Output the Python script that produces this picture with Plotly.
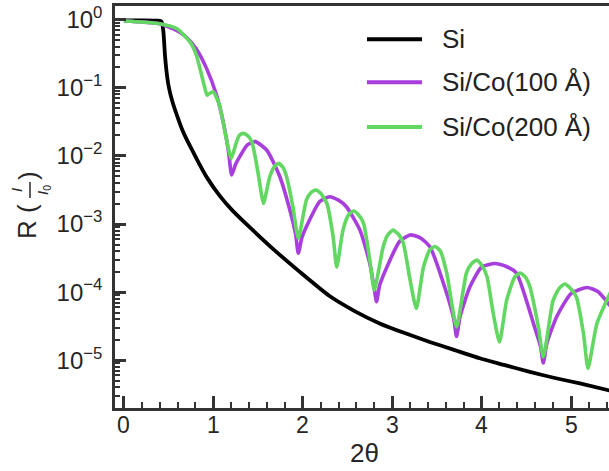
import plotly.graph_objects as go

# 2θ positions and reflectivity R = I/I0 for each sample
si_x = [0, 0.2, 0.38, 0.42, 0.44, 0.459, 0.475, 0.496, 0.52, 0.551, 0.60, 0.645,
        0.70, 0.775, 0.85, 0.925, 1.074, 1.22, 1.37, 1.67, 1.97, 2.30, 2.58,
        2.86, 3.14, 3.42, 3.70, 3.98, 4.26, 4.54, 4.82, 5.10, 5.45]
si_r = [0.977, 0.975, 0.965, 0.940, 0.692, 0.300, 0.180, 0.1125, 0.0800, 0.0573,
        0.0370, 0.0255, 0.0176, 0.01132, 7.31e-3, 4.88e-3, 2.57e-3, 1.55e-3,
        9.97e-4, 4.29e-4, 1.97e-4, 8.77e-5, 5.28e-5, 3.48e-5, 2.51e-5, 1.86e-5,
        1.41e-5, 1.07e-5, 8.51e-6, 6.76e-6, 5.50e-6, 4.57e-6, 3.55e-6]

co100_x = [0, 0.2, 0.4, 0.59, 0.70, 0.81, 0.925, 1.036, 1.11, 1.17, 1.205, 1.25,
           1.30, 1.38, 1.47, 1.60, 1.745, 1.857, 1.92, 1.95, 1.99, 2.04, 2.19,
           2.30, 2.40, 2.49, 2.64, 2.75, 2.80, 2.825, 2.86, 2.975, 3.08, 3.2,
           3.31, 3.42, 3.61, 3.69, 3.72, 3.76, 3.87, 4.0, 4.15, 4.27, 4.39, 4.58,
           4.66, 4.69, 4.73, 4.84, 5.0, 5.18, 5.30, 5.45]
co100_r = [0.955, 0.923, 0.871, 0.692, 0.550, 0.372, 0.191, 0.0776, 0.0316,
           0.0115, 5.25e-3, 7.59e-3, 0.0100, 0.0145, 0.0162, 0.0120, 4.90e-3,
           1.58e-3, 7.08e-4, 3.72e-4, 6.31e-4, 9.12e-4, 2.14e-3, 2.51e-3,
           2.24e-3, 1.78e-3, 8.13e-4, 2.63e-4, 1.12e-4, 7.24e-5, 1.26e-4,
           2.95e-4, 5.50e-4, 6.92e-4, 6.31e-4, 4.68e-4, 9.55e-5, 3.98e-5,
           2.24e-5, 4.47e-5, 1.20e-4, 2.34e-4, 2.63e-4, 2.40e-4, 1.91e-4,
           3.47e-5, 1.58e-5, 9.12e-6, 1.78e-5, 4.37e-5, 9.55e-5, 1.17e-4,
           1.02e-4, 6.03e-5]

co200_x = [0, 0.2, 0.4, 0.59, 0.74, 0.81, 0.87, 0.90, 0.93, 0.96, 1.0, 1.07,
           1.13, 1.17, 1.20, 1.26, 1.29, 1.33, 1.38, 1.43, 1.50, 1.53, 1.56,
           1.63, 1.68, 1.73, 1.78, 1.82, 1.89, 1.95, 2.04, 2.09, 2.145, 2.20,
           2.27, 2.34, 2.38, 2.45, 2.51, 2.565, 2.62, 2.68, 2.75, 2.80, 2.90,
           2.95, 3.01, 3.07, 3.125, 3.2, 3.27, 3.35, 3.42, 3.48, 3.54, 3.61,
           3.72, 3.83, 3.89, 3.945, 4.00, 4.06, 4.13, 4.20, 4.28, 4.37, 4.43,
           4.49, 4.54, 4.635, 4.69, 4.80, 4.87, 4.93, 4.99, 5.06, 5.14, 5.19,
           5.29, 5.45]
co200_r = [0.955, 0.923, 0.871, 0.741, 0.468, 0.302, 0.151, 0.105, 0.0776,
           0.0832, 0.0871, 0.0550, 0.0224, 0.0126, 9.12e-3, 0.0162, 0.0200,
           0.0214, 0.0200, 0.0162, 5.62e-3, 3.16e-3, 2.00e-3, 4.90e-3, 6.92e-3,
           7.76e-3, 6.76e-3, 4.90e-3, 1.78e-3, 6.17e-4, 2.24e-3, 2.88e-3,
           3.16e-3, 2.82e-3, 2.00e-3, 6.46e-4, 2.34e-4, 8.13e-4, 1.35e-3,
           1.55e-3, 1.38e-3, 1.02e-3, 2.95e-4, 1.07e-4, 4.68e-4, 6.92e-4,
           8.13e-4, 7.08e-4, 5.25e-4, 1.51e-4, 5.75e-5, 2.34e-4, 4.17e-4,
           4.68e-4, 3.98e-4, 1.91e-4, 3.09e-5, 1.91e-4, 2.63e-4, 2.95e-4,
           2.51e-4, 1.70e-4, 4.90e-5, 1.86e-5, 7.59e-5, 1.66e-4, 1.91e-4,
           1.66e-4, 1.20e-4, 3.09e-5, 1.12e-5, 7.59e-5, 1.15e-4, 1.32e-4,
           1.15e-4, 8.51e-5, 2.45e-5, 7.59e-6, 3.47e-5, 1.05e-4]

names = ["Si", "Si/Co(100 Å)", "Si/Co(200 Å)"]
colors = ["#000000", "#A83EDB", "#62D862"]
widths = [3.8, 3.6, 3.6]

x_tick_vals = [0, 1, 2, 3, 4, 5]
y_tick_vals = [1, 1e-1, 1e-2, 1e-3, 1e-4, 1e-5]
y_tick_text = ["10<sup>0</sup>", "10<sup>−1</sup>", "10<sup>−2</sup>",
               "10<sup>−3</sup>", "10<sup>−4</sup>", "10<sup>−5</sup>"]

AX = "#333333"
TXT = "#262626"
FONT = "Liberation Sans, Arial, sans-serif"

fig = go.Figure()
series = [(si_x, si_r), (co100_x, co100_r), (co200_x, co200_r)]
for (xs, rs), name, col, w in zip(series, names, colors, widths):
    fig.add_trace(go.Scatter(
        x=xs, y=rs, mode="lines", name=name, showlegend=False,
        line=dict(color=col, width=w, shape="spline", smoothing=0.55),
    ))

# minor ticks on the log axis at 2..9 × 10^n
minor_vals = [m * 10.0 ** e for e in range(-6, 1) for m in range(2, 10)]

fig.update_layout(
    width=609, height=471,
    margin=dict(l=115, r=0, t=6, b=63),
    plot_bgcolor="white", paper_bgcolor="white",
    font=dict(family=FONT, color=TXT, size=24),
    xaxis=dict(
        range=[-0.1, 5.425], showgrid=False, zeroline=False,
        showline=True, linecolor=AX, linewidth=2.5, mirror=True,
        ticks="inside", ticklen=12, tickwidth=2.5, tickcolor=AX,
        tickmode="array", tickvals=x_tick_vals, showticklabels=False,
        minor=dict(ticks="inside", ticklen=6, tickwidth=2, tickcolor=AX,
                   tick0=0, dtick=0.2),
    ),
    yaxis=dict(
        type="log", range=[-5.70, 0.20], showgrid=False, zeroline=False,
        showline=True, linecolor=AX, linewidth=2.5,
        ticks="inside", ticklen=11, tickwidth=2.5, tickcolor=AX,
        tickmode="array", tickvals=y_tick_vals, ticktext=y_tick_text,
        ticklabelstandoff=5,
        tickfont=dict(size=24, color=TXT),
        minor=dict(ticks="inside", ticklen=5, tickwidth=1.8, tickcolor=AX,
                   tickmode="array", tickvals=minor_vals),
    ),
)


def px_x(p):
    return (p - 115) / 494.0


def px_y(p):
    return (408.3 - p) / 402.6


# x tick labels placed just under the axis line
for v in x_tick_vals:
    fig.add_annotation(xref="x", yref="paper", x=v, y=px_y(425),
                       text=str(v), showarrow=False, xanchor="center",
                       yanchor="middle", font=dict(size=23, color=TXT, family=FONT))

# x-axis title
fig.add_annotation(xref="paper", yref="paper", x=px_x(364), y=px_y(453),
                   text="2θ", showarrow=False, xanchor="center", yanchor="middle",
                   font=dict(size=26, color=TXT, family=FONT))

# legend drawn as line samples with text labels
legend_y = [39, 82, 127]
for name, col, yy in zip(names, colors, legend_y):
    fig.add_shape(type="line", xref="paper", yref="paper",
                  x0=px_x(367), x1=px_x(422), y0=px_y(yy), y1=px_y(yy),
                  line=dict(color=col, width=4))
    fig.add_annotation(xref="paper", yref="paper", x=px_x(440), y=px_y(yy),
                       text=name, showarrow=False, xanchor="left", yanchor="middle",
                       font=dict(size=26, color="#222222", family=FONT))

# y-axis title: R (I / I0) written as a stacked fraction, rotated
fig.add_annotation(xref="paper", yref="paper", x=px_x(27), y=px_y(222),
                   text="R (", showarrow=False, textangle=-90,
                   xanchor="center", yanchor="middle",
                   font=dict(size=26, color=TXT, family=FONT))
fig.add_annotation(xref="paper", yref="paper", x=px_x(16), y=px_y(190),
                   text="<i>I</i>", showarrow=False, textangle=-90,
                   xanchor="center", yanchor="middle",
                   font=dict(size=15, color=TXT, family=FONT))
fig.add_annotation(xref="paper", yref="paper", x=px_x(43), y=px_y(190),
                   text="<i>I</i><sub>0</sub>", showarrow=False, textangle=-90,
                   xanchor="center", yanchor="middle",
                   font=dict(size=15, color=TXT, family=FONT))
fig.add_shape(type="line", xref="paper", yref="paper",
              x0=px_x(30), x1=px_x(30), y0=px_y(182), y1=px_y(198),
              line=dict(color=TXT, width=1.5))
fig.add_annotation(xref="paper", yref="paper", x=px_x(28), y=px_y(176),
                   text=")", showarrow=False, textangle=-90,
                   xanchor="center", yanchor="middle",
                   font=dict(size=26, color=TXT, family=FONT))

fig.write_html("out.html")
